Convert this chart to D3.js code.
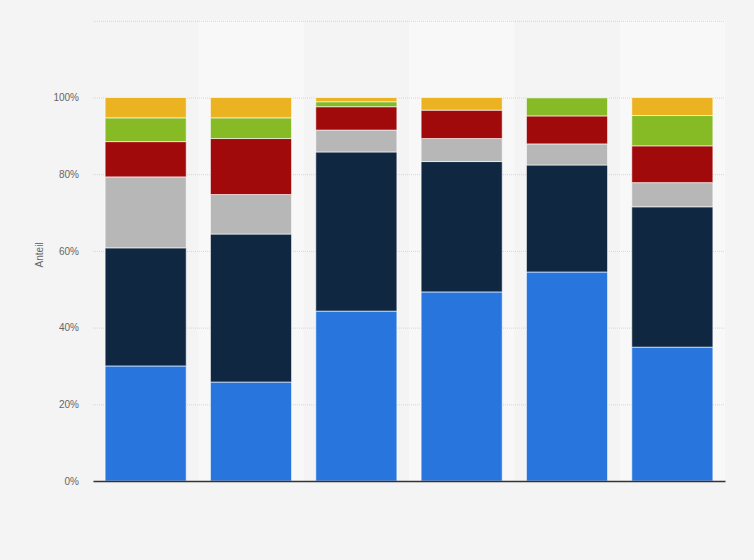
<!DOCTYPE html>
<html>
<head>
<meta charset="utf-8">
<script src="https://cdn.jsdelivr.net/npm/d3@7"></script>
<style>
  html, body { margin: 0; padding: 0; background: #f4f4f4; }
  svg { display: block; font-family: "Liberation Sans", Arial, sans-serif; }
</style>
</head>
<body>
<svg id="chart" width="754" height="560"></svg>
<script>
const categories = ["1", "2", "3", "4", "5", "6"];
const seriesNames = ["S1", "S2", "S3", "S4", "S5", "S6"];
const s1 = [30.0, 25.8, 44.3, 49.3, 54.5, 34.9];
const s2 = [30.8, 38.6, 41.5, 34.0, 27.9, 36.6];
const s3 = [18.5, 10.3, 5.7, 6.0, 5.5, 6.3];
const s4 = [9.2, 14.6, 6.1, 7.4, 7.3, 9.6];
const s5 = [6.2, 5.4, 1.3, 0, 4.7, 7.9];
const s6 = [5.3, 5.3, 1.1, 3.3, 0, 4.7];
const colors = ["#2876dd", "#0f2740", "#b7b7b7", "#a10a0a", "#86bb26", "#ebb322"];
const yTicks = [0, 20, 40, 60, 80, 100, 120];
const yTickLabels = ["0%", "20%", "40%", "60%", "80%", "100%", ""];

const allSeries = [s1, s2, s3, s4, s5, s6];
const table = categories.map((c, i) => {
  const row = { cat: c };
  seriesNames.forEach((n, k) => { row[n] = allSeries[k][i]; });
  return row;
});

const svg = d3.select("#chart");
const margin = { left: 93, right: 29, top: 20.8, bottom: 79 };
const W = 754, H = 560;
const x = d3.scaleBand().domain(categories).range([margin.left, W - margin.right]).paddingInner(0.23).paddingOuter(0.115);
const y = d3.scaleLinear().domain([0, 120]).range([H - margin.bottom, margin.top]);

// alternating bands
const step = x.step();
svg.append("g").selectAll("rect").data(categories.filter((d, i) => i % 2 === 1)).join("rect")
  .attr("x", d => x(d) - (step - x.bandwidth()) / 2)
  .attr("y", y(120) - 1)
  .attr("width", step)
  .attr("height", y(0) - y(120) + 1)
  .attr("fill", "#f8f8f8");

// gridlines
svg.append("g").selectAll("line").data(yTicks.filter(d => d > 0)).join("line")
  .attr("x1", margin.left).attr("x2", W - margin.right)
  .attr("y1", d => y(d) + 0.5).attr("y2", d => y(d) + 0.5)
  .attr("stroke", "#d6d6d6").attr("stroke-width", 1).attr("stroke-dasharray", "1,1");

// y axis
const yAxis = d3.axisLeft(y).tickValues(yTicks).tickSize(0).tickPadding(14)
  .tickFormat((d, i) => yTickLabels[i]);
const ya = svg.append("g").attr("transform", `translate(${margin.left},0)`).call(yAxis);
ya.select(".domain").remove();
ya.selectAll("text").attr("fill", "#666").attr("font-size", "10px");

// stacked bars
const stack = d3.stack().keys(seriesNames)(table);
svg.append("g").selectAll("g").data(stack).join("g")
  .attr("fill", (d, i) => colors[i])
  .selectAll("rect").data(d => d.filter(p => p[1] - p[0] > 0)).join("rect")
  .attr("x", d => x(d.data.cat))
  .attr("y", d => y(d[1]))
  .attr("width", x.bandwidth())
  .attr("height", d => y(d[0]) - y(d[1]))
  .attr("stroke", "#ffffff").attr("stroke-opacity", 0.6).attr("stroke-width", 1);

// x axis baseline
const xAxis = d3.axisBottom(x).tickSize(0).tickFormat("");
const xa = svg.append("g").attr("transform", `translate(0,${y(0)})`).call(xAxis);
xa.select(".domain").attr("stroke", "#333").attr("stroke-width", 1.5);

// y label
svg.append("text")
  .attr("transform", `translate(43,${(y(0) + y(120)) / 2 + 4}) rotate(-90)`)
  .attr("text-anchor", "middle")
  .attr("fill", "#666").attr("font-size", "10px")
  .text("Anteil");
</script>
</body>
</html>
